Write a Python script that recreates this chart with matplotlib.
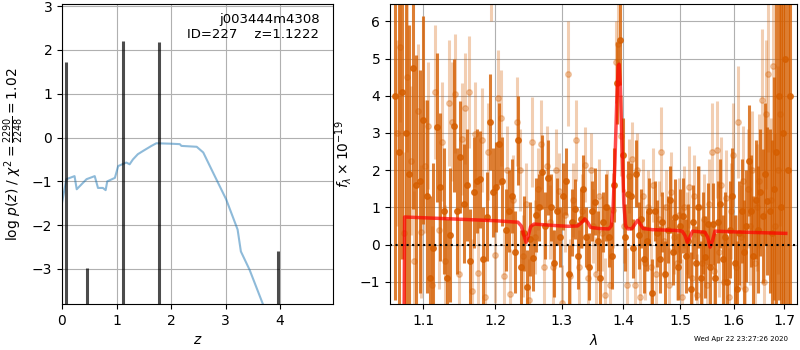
import numpy as np
import matplotlib
matplotlib.use("Agg")
import matplotlib.pyplot as plt
from matplotlib.ticker import FixedLocator, NullLocator, ScalarFormatter

# ---- left panel: log p(z) ----
pz_z = [0.0, 0.08, 0.23, 0.27, 0.45, 0.60, 0.66, 0.75, 0.80, 0.83, 0.97, 1.03,
        1.18, 1.24, 1.30, 1.39, 1.48, 1.64, 1.73, 2.00, 2.16, 2.19, 2.47, 2.59,
        2.77, 3.01, 3.22, 3.28, 3.44, 3.68]
pz_logp = [-1.49, -0.95, -0.88, -1.18, -0.95, -0.88, -1.15, -1.15, -1.2, -1.0,
           -0.92, -0.65, -0.57, -0.61, -0.5, -0.38, -0.31, -0.19, -0.13, -0.14,
           -0.15, -0.19, -0.21, -0.34, -0.8, -1.41, -2.1, -2.6, -3.02, -3.79]
peak_z = [0.08, 0.45, 1.12, 1.77, 3.96]
peak_val = [1.72, -2.97, 2.2, 2.18, -2.6]

# ---- right panel: spectrum ----
dark_wave0, dark_step = 1.0630, 0.0046
dark_flux = [4.0, 2.5, 4.1, 3.0, 1.9, 4.75, 1.6, 1.7, 3.35, 1.3,
             -0.9, -0.1, 3.15, 1.55, 0.9, -0.9, 0.25, 3.2, 0.9, 2.35,
             1.1, 1.6, -0.45, 1.4, 1.7, 1.75, -0.4, 0.75, 3.3, 1.4,
             1.55, 2.7, 1.7, 0.4, 0.9, 1.3, -0.2, 2.8, -0.6, 0.3,
             -1.15, 0.15, -0.35, 0.8, 1.0, 1.95, 0.5, 1.8, 1.0, -0.5,
             0.9, 0.2, 1.3, 1.7, -0.8, 0.6, 0.95, -0.3, 0.7, 1.5,
             0.2, -0.6, 0.9, 1.15, 0.1, -0.9, 0.6, 1.0, 0.2, -0.3,
             1.6, 4.35, 5.5, 2.4, 0.2, 1.35, 1.3, -0.1, 1.9, 0.25,
             0.7, -0.4, 0.1, 0.9, -1.3, 0.9, 0.3, -0.4, 0.6, -0.8,
             0.4, 1.2, -0.2, 0.75, -0.6, 0.5, 0.78, -0.3, 0.1, -1.2,
             0.6, -0.5, 1.0, -0.9, 0.3, -0.33, 0.56, -0.6, 0.56, -0.9,
             0.6, 1.1, -0.4, 0.2, -1.0, 0.4, 1.3, -0.5, -1.2, 0.3,
             0.9, -0.2, 0.5, 2.26, 0.9, -0.3, 1.2, 0.4, 1.4, 0.77,
             1.9, 1.17, 0.9, 0.3, 1.5, 2.5, 4.0, 1.0, 3.0, 5.0,
             2.0, 4.0]
dark_err = [5.5, 5.0, 4.5, 5.0, 4.0, 3.8, 3.5, 3.0, 2.8, 2.6,
            2.2, 2.3, 2.0, 2.0, 1.7, 1.6, 1.8, 1.8, 1.7, 1.5,
            1.6, 1.5, 1.4, 1.5, 1.4, 1.3, 1.4, 1.2, 1.3, 1.2,
            1.2, 1.1, 1.2, 1.1, 1.1, 1.0, 1.1, 1.2, 1.0, 1.0,
            1.0, 1.0, 0.9, 1.0, 0.9, 1.0, 0.9, 1.0, 0.9, 0.9,
            0.9, 0.8, 0.9, 0.9, 0.8, 0.9, 0.8, 0.9, 0.8, 0.9,
            0.8, 0.9, 0.8, 0.9, 0.8, 0.9, 0.8, 0.9, 0.8, 0.9,
            1.0, 1.1, 1.2, 1.0, 0.9, 0.9, 0.9, 0.8, 0.9, 0.9,
            0.8, 0.9, 0.8, 0.9, 0.9, 0.8, 0.9, 0.9, 0.8, 0.9,
            0.9, 0.9, 0.9, 1.0, 0.9, 1.0, 1.0, 1.0, 1.0, 1.0,
            1.0, 1.0, 1.1, 1.0, 1.1, 1.1, 1.1, 1.1, 1.1, 1.2,
            1.1, 1.2, 1.2, 1.2, 1.2, 1.3, 1.3, 1.3, 1.3, 1.4,
            1.4, 1.4, 1.5, 1.5, 1.5, 1.6, 1.6, 1.7, 1.7, 1.8,
            1.9, 2.0, 2.2, 2.5, 3.0, 4.5, 5.5, 6.0, 7.0, 7.5,
            8.0, 8.0]

light_wave0, light_step = 1.0653, 0.0046
light_flux = [3.0, 5.3, 0.3, 4.5, 2.26, -0.45, 3.6, 0.35, 2.1, 3.2,
              -1.1, 4.1, 0.4, 2.77, -0.43, 3.8, 3.3, 4.05, -0.8, 2.84,
              3.66, 4.1, -1.24, 2.96, -0.77, 2.8, -1.4, 2.5, 7.0, -0.27,
              3.94, 3.4, -0.84, 2.0, -1.33, 1.2, 3.3, 2.0, -0.3, 1.1,
              -1.5, 2.76, 0.2, 1.5, 2.7, -0.6, 2.1, 0.6, -0.6, 2.0,
              1.45, -1.56, 0.8, 4.6, -0.84, 1.2, 2.8, -0.6, 0.9, 2.15,
              -0.9, 2.0, 0.5, -0.8, 1.3, 0.3, -1.35, 1.0, -1.1, 0.92,
              4.9, 5.4, 2.93, 0.5, -1.1, 1.85, 2.3, -1.1, 2.0, -1.4,
              1.3, -0.5, 1.0, -0.6, 1.6, -0.8, 0.7, 2.5, 0.1, 1.0,
              -1.1, 1.4, 0.2, -0.5, 0.8, -1.4, 1.0, 0.3, 1.55, -0.9,
              1.3, -1.35, 1.0, -0.5, 0.7, -1.1, 1.1, 2.5, -0.7, 2.55,
              -0.2, 1.6, -1.0, 1.25, -1.4, 0.9, 2.4, -0.6, 3.3, 0.2,
              1.7, -1.2, 1.5, 0.5, 2.0, -0.5, 1.0, 1.7, 3.9, -1.0,
              3.5, 4.6, 1.2, 4.8, 0.5, 2.0, 3.5]
light_err = [2.5, 2.0, 2.2, 2.0, 2.0, 1.9, 1.8, 1.8, 1.8, 1.7,
             1.6, 1.8, 1.6, 1.6, 1.5, 1.7, 1.6, 1.6, 1.5, 1.5,
             1.5, 1.5, 1.4, 1.4, 1.4, 1.4, 1.4, 1.3, 1.0, 1.3,
             1.3, 1.3, 1.2, 1.2, 1.2, 1.2, 1.2, 1.1, 1.1, 1.1,
             1.1, 1.2, 1.0, 1.1, 1.2, 1.1, 1.1, 1.0, 1.0, 1.1,
             1.0, 1.0, 1.0, 1.4, 1.0, 1.0, 1.1, 1.0, 1.0, 1.0,
             1.0, 1.0, 1.0, 1.0, 1.0, 1.0, 1.0, 1.0, 1.0, 1.0,
             1.1, 1.1, 1.1, 1.0, 1.0, 1.0, 1.0, 1.0, 1.0, 1.0,
             1.0, 1.0, 1.0, 1.0, 1.0, 1.0, 1.0, 1.2, 1.0, 1.0,
             1.0, 1.1, 1.0, 1.0, 1.0, 1.0, 1.1, 1.1, 1.1, 1.1,
             1.1, 1.1, 1.1, 1.2, 1.2, 1.2, 1.2, 1.3, 1.2, 1.3,
             1.2, 1.3, 1.3, 1.3, 1.3, 1.3, 1.4, 1.4, 1.5, 1.4,
             1.5, 1.5, 1.6, 1.6, 1.6, 1.7, 1.7, 1.8, 1.9, 1.9,
             2.0, 2.1, 2.2, 2.3, 2.5, 2.8, 3.0]

model_wave = [1.0745, 1.0755, 1.10, 1.15, 1.20, 1.233, 1.238, 1.242, 1.245, 1.248,
              1.252, 1.257, 1.29, 1.31, 1.325, 1.332, 1.3366, 1.341, 1.346, 1.36,
              1.376, 1.380, 1.383, 1.386, 1.389, 1.3915, 1.393, 1.395, 1.398, 1.401,
              1.404, 1.408, 1.415, 1.42, 1.4245, 1.429, 1.434, 1.45, 1.49, 1.503,
              1.508, 1.5126, 1.517, 1.522, 1.545, 1.550, 1.5547, 1.559, 1.5637, 1.60,
              1.65, 1.7032]
model_flux = [-3.0, 0.74, 0.72, 0.68, 0.64, 0.6, 0.5, 0.25, 0.06, 0.2,
              0.48, 0.55, 0.51, 0.49, 0.5, 0.6, 0.69, 0.6, 0.46, 0.43,
              0.42, 0.5, 1.0, 2.2, 3.8, 4.8, 4.85, 4.3, 2.6, 1.1,
              0.5, 0.42, 0.43, 0.55, 0.65, 0.55, 0.43, 0.4, 0.38, 0.36,
              0.25, 0.06, 0.2, 0.36, 0.33, 0.2, -0.07, 0.1, 0.36, 0.34,
              0.32, 0.30]

grism_color = (0.835, 0.369, 0.0)

fig = plt.figure(figsize=(8, 3.5), dpi=100)

# left: p(z)
ax = fig.add_axes([0.0775, 0.1314, 0.3388, 0.8572])
ax.plot(pz_z, pz_logp, color='C0', alpha=0.5, lw=1.5)
ax.vlines(peak_z, -3.8, peak_val, color='k', alpha=0.7, lw=2.2)
ax.set_xlim(0, 4.97)
ax.set_ylim(-3.8, 3.05)
ax.set_xticks([0, 1, 2, 3, 4])
ax.set_yticks([-3, -2, -1, 0, 1, 2, 3])
ax.grid()
ax.set_xlabel('$z$')
ax.set_ylabel(r'log $p(z)$ / $\chi^2=\frac{2290}{2248}=1.02$')
ax.text(0.95, 0.97, 'j003444m4308\nID=227    z=1.1222', transform=ax.transAxes,
        ha='right', va='top', fontsize=9.5)

# right: spectrum
ax2 = fig.add_axes([0.4875, 0.1314, 0.5091, 0.8572])
dark_wave = dark_wave0 + dark_step * np.arange(len(dark_flux))
light_wave = light_wave0 + light_step * np.arange(len(light_flux))

ax2.errorbar(light_wave, light_flux, light_err, color=grism_color, alpha=0.3,
             marker='o', ms=4, linestyle='None', elinewidth=2.2)
ax2.errorbar(dark_wave, dark_flux, dark_err, color=grism_color, alpha=0.8,
             marker='o', ms=4, linestyle='None', elinewidth=2.2)
ax2.plot(model_wave, model_flux, color='r', alpha=0.7, lw=2.5, zorder=5)
ax2.axhline(0, color='k', ls=':', lw=1.5, zorder=6)

ax2.set_xscale('log')
ax2.set_xlim(1.0567, 1.727)
ax2.set_ylim(-1.6, 6.47)
ax2.xaxis.set_major_locator(FixedLocator([1.1, 1.2, 1.3, 1.4, 1.5, 1.6, 1.7]))
ax2.xaxis.set_major_formatter(ScalarFormatter())
ax2.xaxis.set_minor_locator(NullLocator())
ax2.set_yticks([-1, 0, 1, 2, 3, 4, 5, 6])
ax2.grid()
ax2.set_xlabel(r'$\lambda$')
ax2.set_ylabel(r'$f_\lambda\times10^{-19}$')

fig.text(0.985, 0.031, 'Wed Apr 22 23:27:26 2020', ha='right', va='center', fontsize=5)

fig.savefig('out.png', dpi=100)
